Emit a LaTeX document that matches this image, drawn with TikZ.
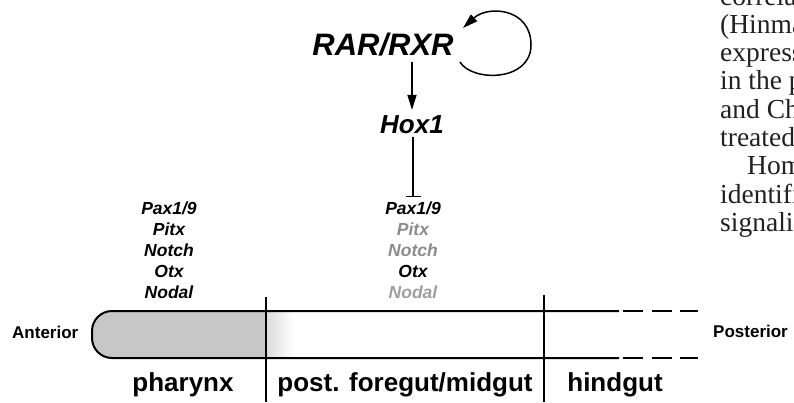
\documentclass[tikz,border=0pt]{standalone}
\usepackage{fontspec}
\setmainfont{Liberation Serif}
\setsansfont{Liberation Sans}
\usetikzlibrary{arrows.meta}
\definecolor{dimA}{gray}{0.55}
\definecolor{dimB}{gray}{0.62}
\definecolor{gutfill}{gray}{0.78}
\definecolor{prosecol}{gray}{0.13}
\begin{document}
\begin{tikzpicture}[x=1pt,y=1pt,
  gene/.style={font=\fontsize{17.5}{17.5}\sffamily\bfseries\itshape, inner sep=0pt, anchor=base},
  genedimA/.style={gene, text=dimA},
  genedimB/.style={gene, text=dimB},
  big/.style={font=\fontsize{31}{31}\sffamily\bfseries\itshape, inner sep=0pt, anchor=base},
  mid/.style={font=\fontsize{26}{26}\sffamily\bfseries\itshape, inner sep=0pt, anchor=base},
  region/.style={font=\fontsize{26}{26}\sffamily\bfseries, inner sep=0pt, anchor=base},
  axislabel/.style={font=\fontsize{17}{17}\sffamily\bfseries, inner sep=0pt, anchor=base west},
  prose/.style={font=\fontsize{27.5}{27.5}\rmfamily, text=prosecol, inner sep=0pt, anchor=base west},
  arr/.style={line width=1.5pt, -{Triangle[length=15pt,width=9pt]}},
  inh/.style={line width=1.5pt, -{Bar[width=15pt,line width=1.5pt]}},
  tube/.style={line width=2pt},
  divider/.style={line width=1.6pt},
]
\useasboundingbox (0,0) rectangle (794,-402);
\clip (0,0) rectangle (794,-402);

% ---- gut tube ----
\fill[gutfill] (266,-311) -- (112,-311) arc[start angle=90,end angle=180,radius=20]
  -- (92,-338) arc[start angle=180,end angle=270,radius=20] -- (266,-358) -- cycle;
\shade[left color=gray!28, right color=white] (266,-311) rectangle (294,-358);
\draw[tube] (619,-311) -- (112,-311) arc[start angle=90,end angle=180,radius=20]
  -- (92,-338) arc[start angle=180,end angle=270,radius=20] -- (619,-358);
\draw[tube, dash pattern=on 20pt off 8.5pt] (623,-311) -- (698,-311);
\draw[tube, dash pattern=on 20pt off 8.5pt] (623,-358) -- (698,-358);
\draw[divider] (266,-297) -- (266,-402);
\draw[divider] (544,-295) -- (544,-402);

% ---- labels on tube ----
\node[axislabel] (ant) at (12,-338) {Anterior};
\node[axislabel] (post) at (713,-337) {Posterior};
\node[region] (phar) at (183,-391) {pharynx};
\node[region] (fore) at (405,-391) {post. foregut/midgut};
\node[region] (hind) at (615,-391) {hindgut};

% ---- regulatory network ----
\node[big] (rar) at (383,-55) {RAR/RXR};
\node[mid] (hox) at (412,-133) {Hox1};
\coordinate (loopA) at (460,-62);
\coordinate (loopB) at (463,-28);
\draw[arr] (loopA) .. controls (472,-82) and (531,-82) .. (531,-45)
  .. controls (531,-8) and (488,-5) .. (loopB);
\draw[arr, shorten <=6pt, shorten >=5pt] (rar.south -| hox.north) -- (hox.north);

% ---- left column ----
\node[gene] (lPax) at (169,-214) {Pax1/9};
\node[gene] (lPitx) at (169,-235) {Pitx};
\node[gene] (lNotch) at (169,-256) {Notch};
\node[gene] (lOtx) at (169,-277) {Otx};
\node[gene] (lNodal) at (169,-298) {Nodal};

% ---- centre column ----
\node[gene] (cPax) at (413,-214) {Pax1/9};
\node[genedimA] (cPitx) at (413,-235) {Pitx};
\node[genedimA] (cNotch) at (413,-256) {Notch};
\node[gene] (cOtx) at (413,-277) {Otx};
\node[genedimB] (cNodal) at (413,-298) {Nodal};

\draw[inh, shorten <=4pt, shorten >=4pt] (hox.south -| cPax.north) -- (cPax.north);

% ---- page text at right (cut by the picture's edge, as in the reference) ----
\node[prose] (t1) at (720,-5) {correla};
\node[prose] (t2) at (720,-33.3) {(Hinma};
\node[prose] (t3) at (720,-61.6) {express};
\node[prose] (t4) at (720,-89.9) {in the p};
\node[prose] (t5) at (720,-118.2) {and Ch};
\node[prose] (t6) at (720,-146.5) {treated};
\node[prose] (t7) at (747,-174.8) {Hom};
\node[prose] (t8) at (720,-203.1) {identifi};
\node[prose] (t9) at (720,-231.4) {signalin};
\end{tikzpicture}
\end{document}
